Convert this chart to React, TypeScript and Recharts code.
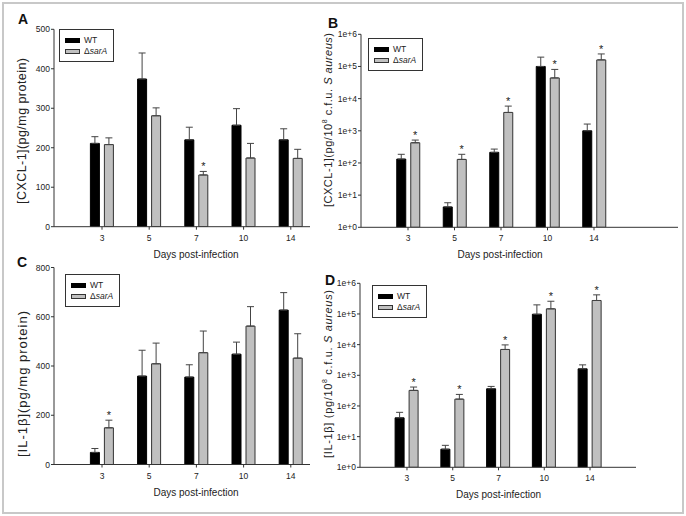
import React from "react";
import {
  BarChart,
  Bar,
  XAxis,
  YAxis,
  ErrorBar,
  Legend,
  LabelList,
  Label,
} from "recharts";

const FONT = "'Liberation Sans', Arial, sans-serif";
const W = 686;
const H = 516;

const days = ["3", "5", "7", "10", "14"];

// A: [CXCL-1] (pg/mg protein)
const cxclWt = [211, 374, 220, 257, 220];
const cxclWtErr = [17, 66, 32, 42, 28];
const cxclSar = [208, 281, 131, 174, 173];
const cxclSarErr = [17, 20, 9, 37, 23];
const cxclSig = [false, false, true, false, false];

// B: [CXCL-1] (pg/10^8 cfu)
const cxclCfuWt = [132, 4.3, 214, 100000, 1000];
const cxclCfuWtErr = [54, 1.5, 56, 95000, 620];
const cxclCfuSar = [425, 129, 3720, 44000, 160000];
const cxclCfuSarErr = [90, 57, 2140, 37000, 85000];
const cxclCfuSig = [true, true, true, true, true];

// C: [IL-1b] (pg/mg protein)
const il1Wt = [49, 359, 355, 448, 627];
const il1WtErr = [16, 105, 50, 49, 71];
const il1Sar = [149, 409, 454, 562, 432];
const il1SarErr = [31, 84, 88, 79, 99];
const il1Sig = [true, false, false, false, false];

// D: [IL-1b] (pg/10^8 cfu)
const il1CfuWt = [41, 3.9, 363, 98000, 1620];
const il1CfuWtErr = [21, 1.3, 71, 100000, 570];
const il1CfuSar = [322, 167, 6960, 147000, 275000];
const il1CfuSarErr = [92, 71, 2840, 113000, 145000];
const il1CfuSig = [true, true, true, true, true];

const ticksA = [0, 100, 200, 300, 400, 500];
const ticksC = [0, 200, 400, 600, 800];
const logTicks = [1, 10, 100, 1000, 10000, 100000, 1000000];

const logLabel = (v: number) => `1e+${Math.round(Math.log10(v))}`;

function LegendBox() {
  return (
    <div
      style={{
        boxSizing: "border-box",
        width: 55,
        height: 33,
        border: "1px solid #333",
        background: "#fff",
        padding: "5px 0 0 5px",
        fontFamily: FONT,
        fontSize: 8.5,
        color: "#222",
        lineHeight: "11px",
      }}
    >
      <div style={{ display: "flex", alignItems: "center", height: 11 }}>
        <span style={{ display: "inline-block", width: 15, height: 5, background: "#000", marginRight: 4 }} />
        WT
      </div>
      <div style={{ display: "flex", alignItems: "center", height: 11 }}>
        <span
          style={{
            display: "inline-block",
            boxSizing: "border-box",
            width: 15,
            height: 5,
            background: "#c0c0c0",
            border: "1px solid #333",
            marginRight: 4,
          }}
        />
        <span>
          Δ<i>sarA</i>
        </span>
      </div>
    </div>
  );
}

type PanelProps = {
  letter: string;
  letterX: number;
  letterY: number;
  wt: number[];
  wtErr: number[];
  sar: number[];
  sarErr: number[];
  sig: boolean[];
  log: boolean;
  domain: [number, number];
  ticks: number[];
  x0: number;
  x1: number;
  y0: number;
  y1: number;
  padL: number;
  padR: number;
  yTitle: React.ReactNode;
  yTitleX: number;
  yTitleY: number;
  yTitleLen: number;
  yTitleSize: number;
  xTitleX: number;
  legendX: number;
  legendY: number;
};

function Panel(p: PanelProps) {
  const rows = days.map((d, i) => ({
    day: d,
    wt: p.wt[i],
    sar: p.sar[i],
    wtErr: [0, p.wtErr[i]],
    sarErr: [0, p.sarErr[i]],
  }));
  const YW = 40;
  const XH = 40;

  const star = (props: any) => {
    const vb = props.x !== undefined ? props : props.viewBox || {};
    const { x, y, width, height } = vb;
    const i = props.index;
    if (!p.sig[i] || x === undefined) return null;
    const v = p.sar[i];
    const top = v + p.sarErr[i];
    let ty: number;
    if (p.log) {
      const k = height / Math.log10(v);
      ty = y + height - k * Math.log10(top);
    } else {
      ty = y - (p.sarErr[i] * height) / v;
    }
    return (
      <text x={x + width / 2} y={ty - 1} textAnchor="middle" fontSize={11} fill="#222" fontFamily={FONT}>
        *
      </text>
    );
  };

  return (
    <div style={{ position: "absolute", left: 0, top: 0 }}>
      <BarChart
        width={W}
        height={H}
        data={rows}
        margin={{ top: p.y0, right: W - p.x1, bottom: H - p.y1 - XH, left: p.x0 - YW }}
        barSize={9}
        barGap={5}
      >
        <XAxis
          dataKey="day"
          height={XH}
          interval={0}
          tickSize={3}
          tickMargin={5}
          padding={{ left: p.padL, right: p.padR }}
          axisLine={{ stroke: "#333" }}
          tickLine={{ stroke: "#333" }}
          tick={{ fontSize: 8.5, fill: "#222", fontFamily: FONT }}
        >
          <Label
            content={() => (
              <text x={p.xTitleX} y={p.y1 + 31} textAnchor="middle" fontSize={10} fill="#222" fontFamily={FONT}>
                Days post-infection
              </text>
            )}
          />
        </XAxis>
        <YAxis
          width={YW}
          type="number"
          scale={p.log ? "log" : "linear"}
          domain={p.domain}
          ticks={p.ticks}
          allowDataOverflow
          interval={0}
          tickSize={3}
          tickMargin={1}
          tickFormatter={p.log ? logLabel : (v: number) => String(v)}
          axisLine={{ stroke: "#333" }}
          tickLine={{ stroke: "#333" }}
          tick={{ fontSize: 8.5, fill: "#222", fontFamily: FONT }}
        >
          <Label
            content={() => (
              <g fontFamily={FONT} fill="#222">
                <text x={p.letterX} y={p.letterY} fontSize={14} fontWeight="bold" fill="#111">
                  {p.letter}
                </text>
                <text
                  x={p.yTitleX}
                  y={p.yTitleY}
                  transform={`rotate(-90, ${p.yTitleX}, ${p.yTitleY})`}
                  textAnchor="middle"
                  dominantBaseline="central"
                  fontSize={p.yTitleSize}
                  textLength={p.yTitleLen}
                  lengthAdjust="spacing"
                >
                  {p.yTitle}
                </text>
              </g>
            )}
          />
        </YAxis>
        <Legend
          content={LegendBox}
          layout="horizontal"
          verticalAlign="middle"
          align="center"
          wrapperStyle={{ left: p.legendX, top: p.legendY, width: "auto", height: "auto" }}
        />
        <Bar dataKey="wt" fill="#000" stroke="#000" isAnimationActive={false}>
          <ErrorBar dataKey="wtErr" width={3.5} stroke="#444" strokeWidth={1} direction="y" />
        </Bar>
        <Bar dataKey="sar" fill="#c0c0c0" stroke="#333" strokeWidth={1} isAnimationActive={false}>
          <ErrorBar dataKey="sarErr" width={3.5} stroke="#444" strokeWidth={1} direction="y" />
          <LabelList dataKey="sar" content={star} />
        </Bar>
      </BarChart>
    </div>
  );
}

const cfuTitle = (name: React.ReactNode) => (
  <>
    {name}(pg/10
    <tspan fontSize={7} dy={-4}>
      8
    </tspan>
    <tspan dy={4}> c.f.u. </tspan>
    <tspan fontStyle="italic">S aureus</tspan>)
  </>
);

export default function App() {
  return (
    <div style={{ position: "absolute", left: 0, top: 0, width: W, height: H, background: "#fff", fontFamily: FONT }}>
      <div
        style={{
          position: "absolute",
          left: 2,
          top: 2,
          width: 678,
          height: 508,
          border: "2px solid #c8c8c8",
        }}
      />
      <Panel
        letter="A"
        letterX={18}
        letterY={23.5}
        wt={cxclWt}
        wtErr={cxclWtErr}
        sar={cxclSar}
        sarErr={cxclSarErr}
        sig={cxclSig}
        log={false}
        domain={[0, 500]}
        ticks={ticksA}
        x0={54}
        x1={310}
        y0={29.3}
        y1={226.7}
        padL={24.4}
        padR={-4.4}
        yTitle="[CXCL-1](pg/mg protein)"
        yTitleX={22}
        yTitleY={131}
        yTitleLen={146}
        yTitleSize={12.5}
        xTitleX={196}
        legendX={59}
        legendY={29}
      />
      <Panel
        letter="B"
        letterX={328}
        letterY={28}
        wt={cxclCfuWt}
        wtErr={cxclCfuWtErr}
        sar={cxclCfuSar}
        sarErr={cxclCfuSarErr}
        sig={cxclCfuSig}
        log={true}
        domain={[1, 1000000]}
        ticks={logTicks}
        x0={361}
        x1={678}
        y0={34.3}
        y1={227.3}
        padL={23.75}
        padR={60.75}
        yTitle={cfuTitle("[CXCL-1]")}
        yTitleX={328}
        yTitleY={120}
        yTitleLen={174}
        yTitleSize={11}
        xTitleX={500}
        legendX={368}
        legendY={38}
      />
      <Panel
        letter="C"
        letterX={17}
        letterY={266.5}
        wt={il1Wt}
        wtErr={il1WtErr}
        sar={il1Sar}
        sarErr={il1SarErr}
        sig={il1Sig}
        log={false}
        domain={[0, 800]}
        ticks={ticksC}
        x0={54}
        x1={310}
        y0={267.5}
        y1={464.5}
        padL={24.4}
        padR={-4.4}
        yTitle="[IL-1β](pg/mg protein)"
        yTitleX={22}
        yTitleY={384}
        yTitleLen={146}
        yTitleSize={13}
        xTitleX={196}
        legendX={65}
        legendY={274}
      />
      <Panel
        letter="D"
        letterX={325}
        letterY={284.5}
        wt={il1CfuWt}
        wtErr={il1CfuWtErr}
        sar={il1CfuSar}
        sarErr={il1CfuSarErr}
        sig={il1CfuSig}
        log={true}
        domain={[1, 1000000]}
        ticks={logTicks}
        x0={360}
        x1={636}
        y0={283.3}
        y1={467.3}
        padL={24.1}
        padR={23.1}
        yTitle={cfuTitle("[IL-1β] ")}
        yTitleX={328}
        yTitleY={374}
        yTitleLen={168}
        yTitleSize={11}
        xTitleX={498.5}
        legendX={372}
        legendY={285}
      />
    </div>
  );
}
